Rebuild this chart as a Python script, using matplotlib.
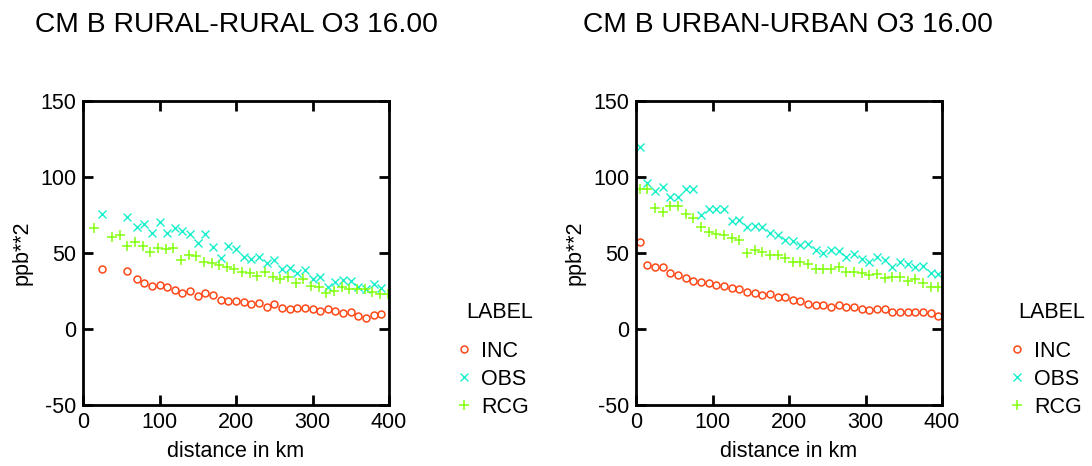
import matplotlib
matplotlib.use("Agg")
import matplotlib.pyplot as plt
from matplotlib.lines import Line2D

plt.rcParams['font.family'] = ['Liberation Sans', 'DejaVu Sans']
plt.rcParams['axes.unicode_minus'] = False

# ---- data: left panel (RURAL-RURAL) ----
rr_inc_x = [25, 58, 70, 80, 90, 100, 110, 120, 130, 140, 150, 160, 170, 180, 190, 200,
            210, 220, 230, 240, 250, 260, 270, 280, 290, 300, 310, 320, 330, 340, 350,
            360, 370, 380, 390]
rr_inc = [39.3, 37.9, 32.9, 30.0, 28.1, 28.9, 27.4, 25.9, 23.7, 25.2, 21.9, 23.7, 22.4,
          19.1, 18.2, 18.2, 17.8, 16.7, 17.3, 14.5, 16.2, 14.0, 13.2, 13.6, 14.0, 13.2,
          11.6, 12.9, 12.1, 10.3, 11.2, 8.6, 7.2, 9.0, 10.1]
rr_obs_x = rr_inc_x
rr_obs = [75.7, 73.5, 67.3, 69.3, 62.9, 70.6, 62.9, 66.2, 64.3, 62.5, 56.4, 62.5, 53.7,
          46.7, 54.6, 52.4, 47.6, 46.3, 47.6, 43.2, 45.2, 39.7, 40.4, 36.6, 38.8, 33.1,
          34.2, 27.9, 30.9, 32.0, 31.6, 27.9, 26.5, 29.8, 27.0]
rr_rcg_x = [15, 38, 48, 58, 68, 78, 88, 98, 108, 118, 128, 138, 148, 158, 168, 178, 188,
            198, 208, 218, 228, 238, 248, 258, 268, 278, 288, 298, 308, 318, 328, 338,
            348, 358, 368, 378, 388, 399]
rr_rcg = [66.2, 60.5, 62.1, 54.4, 57.0, 54.8, 50.4, 53.3, 52.9, 53.1, 45.6, 48.9, 47.8,
          44.1, 43.4, 42.3, 41.0, 39.3, 37.5, 36.6, 34.9, 37.5, 34.4, 32.7, 34.0, 30.0,
          32.7, 28.3, 27.9, 23.9, 24.8, 27.4, 26.1, 26.3, 26.1, 24.1, 23.0, 23.0]

# ---- data: right panel (URBAN-URBAN) ----
uu_x = [5, 15, 25, 35, 45, 55, 65, 75, 85, 95, 105, 115, 125, 135, 145, 155, 165, 175,
        185, 195, 205, 215, 225, 235, 245, 255, 265, 275, 285, 295, 305, 315, 325, 335,
        345, 355, 365, 375, 385, 395]
uu_inc = [57.5, 42.3, 41.0, 40.6, 37.1, 35.5, 33.8, 31.8, 30.7, 30.5, 29.2, 28.3, 27.0,
          26.1, 24.1, 23.9, 22.4, 23.2, 20.8, 20.8, 19.1, 18.6, 16.4, 16.0, 16.0, 14.7,
          15.8, 14.7, 14.5, 13.4, 12.5, 13.4, 13.2, 11.2, 11.2, 11.0, 11.0, 11.4, 10.3, 8.8]
uu_obs = [119.5, 96.3, 90.6, 93.6, 86.8, 86.8, 92.3, 91.9, 75.2, 79.2, 78.7, 78.9, 71.3,
          71.7, 67.3, 67.8, 66.9, 63.4, 62.1, 58.6, 58.1, 55.3, 55.7, 52.0, 49.8, 52.0,
          51.5, 47.6, 49.3, 46.1, 44.3, 47.6, 45.4, 41.0, 44.1, 42.8, 41.0, 41.4, 36.6, 36.2]
uu_rcg = [92.1, 91.9, 79.4, 77.2, 80.7, 81.1, 75.7, 72.8, 67.3, 63.8, 62.5, 61.6, 59.6,
          58.6, 50.2, 52.0, 50.4, 48.5, 48.5, 46.5, 44.3, 44.1, 42.8, 39.7, 39.5, 39.3,
          41.0, 37.5, 37.7, 36.8, 35.3, 36.4, 33.8, 34.2, 34.2, 31.8, 32.7, 30.0, 27.9, 27.4]

titles = ["CM B RURAL-RURAL O3 16.00", "CM B URBAN-URBAN O3 16.00"]
labels = ["INC", "OBS", "RCG"]
xticks = [0, 100, 200, 300, 400]
yticks = [-50, 0, 50, 100, 150]

C_INC = '#ff4818'
C_OBS = '#18f0cc'
C_RCG = '#84ff10'

FS = 15.5
fig = plt.figure(figsize=(10.92, 4.66), dpi=100)
W, H = 1092, 466
panels = [
    dict(left=83, title_x=35, legend_x=455, label_x=466,
         data=[(rr_inc_x, rr_inc), (rr_obs_x, rr_obs), (rr_rcg_x, rr_rcg)]),
    dict(left=636, title_x=583, legend_x=1008, label_x=1018,
         data=[(uu_x, uu_inc), (uu_x, uu_obs), (uu_x, uu_rcg)]),
]

for i, p in enumerate(panels):
    ax = fig.add_axes([p['left'] / W, (H - 405) / H, 306 / W, 304 / H])
    (xi, yi), (xo, yo), (xr, yr) = p['data']
    h1, = ax.plot(xi, yi, linestyle='none', marker='o', ms=5.0, mfc='none',
                  mec=C_INC, mew=1.1)
    h2, = ax.plot(xo, yo, linestyle='none', marker='x', ms=6.0, color=C_OBS, mew=1.0)
    h3, = ax.plot(xr, yr, linestyle='none', marker='+', ms=7.5, color=C_RCG, mew=1.1)
    ax.set_xlim(0, 400)
    ax.set_ylim(-50, 150)
    ax.set_xticks(xticks)
    ax.set_yticks(yticks)
    ax.tick_params(direction='in', length=7, width=2, top=True, right=True,
                   labelsize=FS, pad=5)
    for s in ax.spines.values():
        s.set_linewidth(2)
    ax.set_xlabel('distance in km', fontsize=FS, labelpad=6)
    ax.set_ylabel('ppb**2', fontsize=FS, labelpad=5)
    fig.text(p['title_x'] / W, 1 - 25 / H, titles[i], fontsize=20.3,
             ha='left', va='center')
    fig.text(p['label_x'] / W, 1 - 313 / H, 'LABEL', fontsize=FS,
             ha='left', va='center')
    leg = fig.legend([h1, h2, h3], labels, frameon=False,
                     loc='upper left',
                     bbox_to_anchor=(p['legend_x'] / W, 1 - 341 / H),
                     fontsize=FS, handlelength=0.8,
                     handletextpad=0.42, labelspacing=0.32, borderaxespad=0,
                     borderpad=0)

fig.savefig('out.png', dpi=100)
